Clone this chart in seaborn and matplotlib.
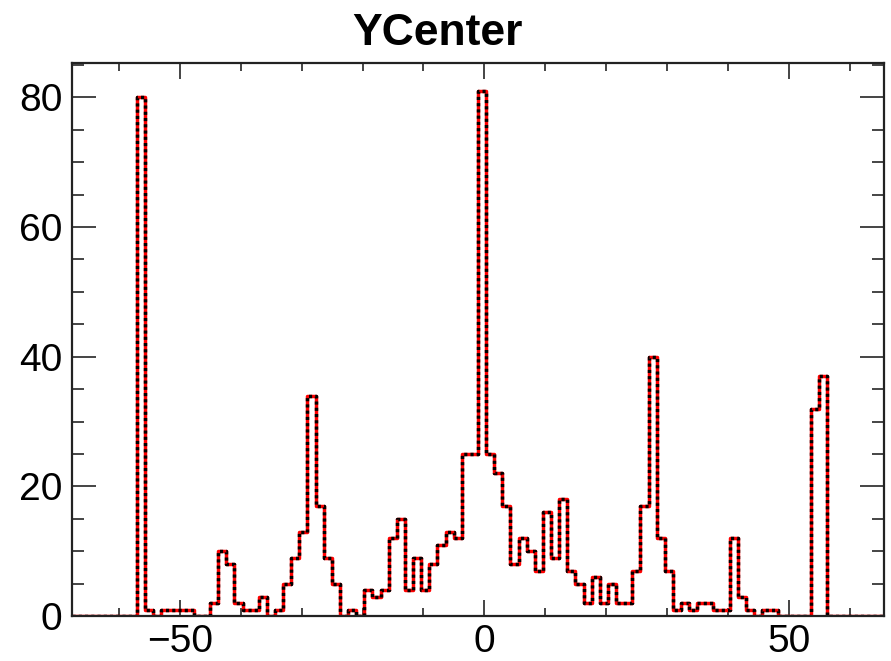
import numpy as np
import pandas as pd
import matplotlib
matplotlib.use("Agg")
import matplotlib.pyplot as plt
from matplotlib.ticker import MultipleLocator
import seaborn as sns

# ---- data ----
title = "YCenter"
x_min, x_max, n_bins = -67.7, 65.63, 100
counts = [
    0, 0, 0, 0, 0, 0, 0, 0, 80, 1,
    0, 1, 1, 1, 1, 0, 0, 2, 10, 8,
    2, 1, 1, 3, 0, 1, 5, 9, 13, 34,
    17, 9, 5, 0, 1, 0, 4, 3, 4, 12,
    15, 4, 9, 4, 8, 11, 13, 12, 25, 25,
    81, 25, 22, 17, 8, 12, 10, 7, 16, 9,
    18, 7, 5, 2, 6, 2, 5, 2, 2, 7,
    17, 40, 12, 7, 1, 2, 1, 2, 2, 1,
    1, 12, 3, 1, 0, 1, 1, 0, 0, 0,
    0, 32, 37, 0, 0, 0, 0, 0, 0, 0,
]
x_major = [-50, 0, 50]
y_major = [0, 20, 40, 60, 80]

edges = np.linspace(x_min, x_max, n_bins + 1)
centers = 0.5 * (edges[:-1] + edges[1:])
df = pd.DataFrame({"YCenter": centers, "count": np.asarray(counts, dtype=float)})
bin_list = [float(e) for e in edges]

sns.set_theme(style="white")
plt.rcParams["font.family"] = ["Liberation Sans", "DejaVu Sans"]
plt.rcParams["text.color"] = "black"

fig = plt.figure(figsize=(8.91, 6.61), dpi=100)
ax = fig.add_axes([72 / 891, 1 - 616 / 661, (884 - 72) / 891, (616 - 63) / 661])

sns.histplot(data=df, x="YCenter", weights="count", bins=bin_list,
             element="step", fill=False, color="#ff0000", linewidth=2.5, ax=ax)
sns.histplot(data=df, x="YCenter", weights="count", bins=bin_list,
             element="step", fill=False, color="black", linewidth=2.5,
             linestyle=(0, (0.9, 0.9)), ax=ax)

ax.set_xlim(x_min, x_max)
ax.set_ylim(0, 85.3)
ax.set_xlabel("")
ax.set_ylabel("")
ax.set_xticks(x_major)
ax.set_yticks(y_major)
ax.xaxis.set_minor_locator(MultipleLocator(10))
ax.yaxis.set_minor_locator(MultipleLocator(5))

for s in ax.spines.values():
    s.set_visible(True)
    s.set_color("#222222")
    s.set_linewidth(1.6)

ax.tick_params(axis="x", which="major", direction="in", length=11.5, width=1.4,
               color="#444444", top=True, bottom=True, labelsize=28, pad=6,
               labelcolor="black")
ax.tick_params(axis="x", which="minor", direction="in", length=5.8, width=1.4,
               color="#444444", top=True, bottom=True)
ax.tick_params(axis="y", which="major", direction="in", length=17.3, width=1.4,
               color="#444444", left=True, right=True, labelsize=28, pad=7,
               labelcolor="black")
ax.tick_params(axis="y", which="minor", direction="in", length=8.6, width=1.4,
               color="#444444", left=True, right=True)

fig.text(437 / 891, 1 - 45 / 661, title, ha="center", va="baseline",
         fontsize=32, fontweight="bold", color="black")

fig.savefig("out.png", dpi=100)
